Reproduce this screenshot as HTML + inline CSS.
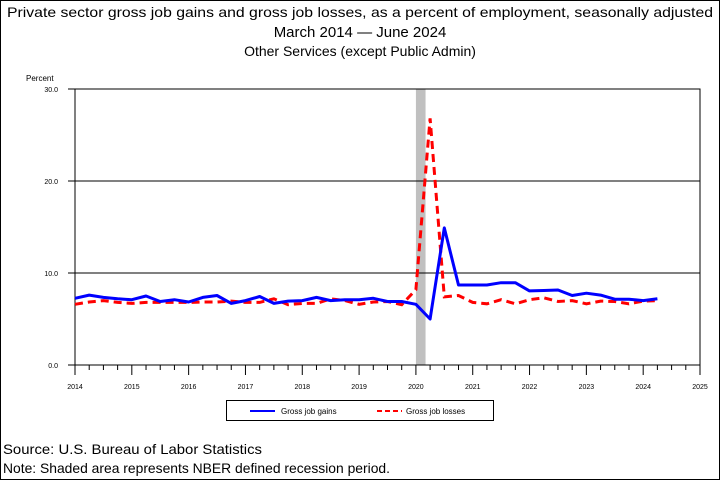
<!DOCTYPE html>
<html><head><meta charset="utf-8"><style>
body{margin:0;background:#fff;}
svg{display:block;font-family:"Liberation Sans",sans-serif;}
</style></head><body>
<svg width="720" height="480" viewBox="0 0 720 480" xmlns="http://www.w3.org/2000/svg">
<rect x="0.5" y="0.5" width="719" height="479" fill="#fff" stroke="#000"/>
<text x="360" y="17" font-size="14" text-anchor="middle" textLength="706" lengthAdjust="spacingAndGlyphs">Private sector gross job gains and gross job losses, as a percent of employment, seasonally adjusted</text>
<text x="360" y="37" font-size="15" text-anchor="middle">March 2014 — June 2024</text>
<text x="360" y="56" font-size="14" text-anchor="middle">Other Services (except Public Admin)</text>
<text x="26" y="81" font-size="8">Percent</text>
<g id="plot"></g>
<g>
<rect x="226.5" y="400.5" width="267" height="20" fill="#fff" stroke="#000"/>
<line x1="250" y1="411" x2="275" y2="411" stroke="#0000ff" stroke-width="2"/>
<text x="281" y="414" font-size="8">Gross job gains</text>
<line x1="377" y1="411" x2="402" y2="411" stroke="#ff0000" stroke-width="2" stroke-dasharray="5,3"/>
<text x="406" y="414" font-size="8">Gross job losses</text>
</g>
<text x="3" y="454" font-size="14" textLength="259" lengthAdjust="spacingAndGlyphs">Source: U.S. Bureau of Labor Statistics</text>
<text x="3" y="473" font-size="14" textLength="387" lengthAdjust="spacingAndGlyphs">Note: Shaded area represents NBER defined recession period.</text>
</svg>
<script>
const yearTicks=[2014,2015,2016,2017,2018,2019,2020,2021,2022,2023,2024,2025];
const yTicks=[0,10,20,30];
const startYear=2014;
const gains=[7.25,7.6,7.35,7.2, 7.1,7.5,6.9,7.1, 6.85,7.35,7.55,6.7, 7.0,7.45,6.7,6.95, 7.0,7.35,7.0,7.1, 7.1,7.25,6.9,6.9, 6.6,5.0,14.9,8.7, 8.7,8.7,8.95,8.95, 8.05,8.1,8.15,7.55, 7.8,7.6,7.15,7.15, 7.0,7.2];
const losses=[6.6,6.85,7.0,6.8, 6.7,6.8,6.8,6.8, 6.8,6.85,6.85,6.95, 6.8,6.8,7.2,6.55, 6.7,6.7,7.2,7.0, 6.6,6.85,6.9,6.55, 8.2,26.8,7.4,7.55, 6.8,6.65,7.1,6.65, 7.1,7.3,6.9,7.0, 6.65,6.95,6.9,6.65, 6.95,7.0];
const recession=[2020.0,2020.17];
const X0=75,X1=700,Y0=365,Y1=89;
const xs=t=>X0+(t-2014)*(X1-X0)/11;
const ys=v=>Y0-(v/30)*(Y0-Y1);
const NS="http://www.w3.org/2000/svg";
const g=document.getElementById('plot');
function mk(tag,a){const e=document.createElementNS(NS,tag);for(const k in a)e.setAttribute(k,a[k]);g.appendChild(e);return e;}
let r=mk('rect',{x:xs(recession[0]),y:Y1,width:xs(recession[1])-xs(recession[0]),height:Y0-Y1,fill:'#c0c0c0'});


yTicks.forEach(v=>{
 if(v>0&&v<30){let l=mk('line',{x1:X0,x2:X1,y1:ys(v),y2:ys(v),stroke:'#000','stroke-width':1});
 
 }
 let tk=mk('line',{x1:X0-7,x2:X0,y1:ys(v),y2:ys(v),stroke:'#000'});
 
 
 let t=mk('text',{x:X0-17,y:ys(v)+3,'font-size':7,'text-anchor':'end'});t.textContent=v.toFixed(1);
 
 
});
let fr=mk('rect',{x:X0,y:Y1,width:X1-X0,height:Y0-Y1,fill:'none',stroke:'#000'});


yearTicks.forEach((yr,i)=>{
 let l=mk('line',{x1:xs(yr),x2:xs(yr),y1:Y0,y2:Y0+10,stroke:'#000'});
 
 
 if(i<yearTicks.length-1)for(let q=1;q<4;q++){let m=mk('line',{x1:xs(yr+q/4),x2:xs(yr+q/4),y1:Y0,y2:Y0+5,stroke:'#000'});
 
 }
 let t=mk('text',{x:xs(yr),y:Y0+24,'font-size':7,'text-anchor':'middle'});t.textContent=yr;
 
 
});
function path(arr){return arr.map((v,i)=>(i?'L':'M')+xs(startYear+i/4).toFixed(1)+','+ys(v).toFixed(1)).join(' ');}
let pl=mk('path',{d:path(losses),fill:'none',stroke:'#ff0000','stroke-width':3,'stroke-dasharray':'8,5'});


let pg=mk('path',{d:path(gains),fill:'none',stroke:'#0000ff','stroke-width':3,'stroke-linejoin':'round'});


</script>
</body></html>
